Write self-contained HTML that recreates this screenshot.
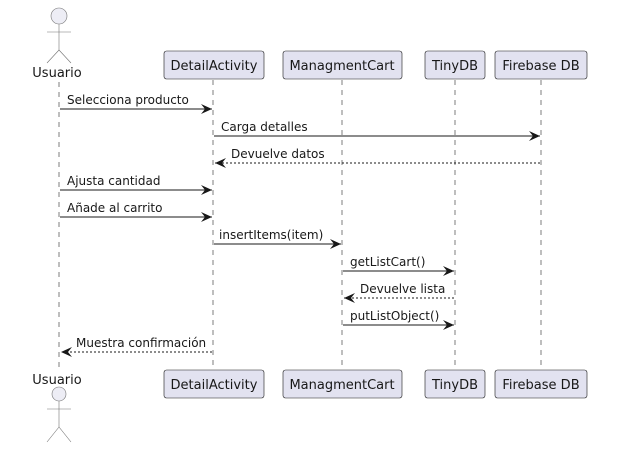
<!DOCTYPE html>
<html><head><meta charset="utf-8"><style>
html,body{margin:0;padding:0;background:#fff;}
svg{display:block;font-family:"DejaVu Sans","Liberation Sans",sans-serif;}
</style></head><body>
<svg width="633" height="458" viewBox="0 0 633 458" xmlns="http://www.w3.org/2000/svg">
<defs>
<marker id="a" markerWidth="12" markerHeight="10" refX="11" refY="5" orient="auto" markerUnits="userSpaceOnUse">
<path d="M0,0 L11,5 L0,10 L4,5 Z" fill="#181818"/></marker>
</defs>
<g stroke="#181818" stroke-width="0.8" stroke-dasharray="5,5" fill="none" opacity="0.7">
<line x1="59" y1="82" x2="59" y2="370"/>
<line x1="213" y1="80" x2="213" y2="370"/>
<line x1="342" y1="80" x2="342" y2="370"/>
<line x1="455" y1="80" x2="455" y2="370"/>
<line x1="541" y1="80" x2="541" y2="370"/>
</g>
<g fill="#e2e2f0" stroke="#181818" stroke-width="0.6">
<rect x="164" y="51" width="100" height="28" rx="2.5"/>
<rect x="283" y="51" width="119" height="28" rx="2.5"/>
<rect x="425" y="51" width="60" height="28" rx="2.5"/>
<rect x="495" y="51" width="92" height="28" rx="2.5"/>
<rect x="164" y="370" width="100" height="28" rx="2.5"/>
<rect x="283" y="370" width="119" height="28" rx="2.5"/>
<rect x="425" y="370" width="60" height="28" rx="2.5"/>
<rect x="495" y="370" width="92" height="28" rx="2.5"/>
</g>
<g font-size="13" fill="#181818" text-anchor="middle">
<text x="214" y="70">DetailActivity</text>
<text x="342" y="70">ManagmentCart</text>
<text x="455" y="70">TinyDB</text>
<text x="541" y="70">Firebase DB</text>
<text x="214" y="389">DetailActivity</text>
<text x="342" y="389">ManagmentCart</text>
<text x="455" y="389">TinyDB</text>
<text x="541" y="389">Firebase DB</text>
<text x="57" y="77">Usuario</text>
<text x="57" y="384">Usuario</text>
</g>
<g stroke="#181818" stroke-width="0.6" fill="none" opacity="0.6">
<circle cx="59" cy="16" r="8" fill="#e2e2f0"/>
<line x1="59" y1="24" x2="59" y2="50"/><line x1="47" y1="32" x2="71" y2="32"/>
<line x1="59" y1="50" x2="47" y2="63"/><line x1="59" y1="50" x2="71" y2="63"/>
<circle cx="59" cy="394" r="7" fill="#e2e2f0"/>
<line x1="59" y1="401" x2="59" y2="427"/><line x1="47" y1="409" x2="71" y2="409"/>
<line x1="59" y1="427" x2="47" y2="442"/><line x1="59" y1="427" x2="71" y2="442"/>
</g>
<g stroke="#181818" stroke-width="1" fill="none">
<line x1="60" y1="109" x2="212" y2="109" marker-end="url(#a)"/>
<line x1="214" y1="136" x2="540" y2="136" marker-end="url(#a)"/>
<line x1="540" y1="163" x2="215" y2="163" stroke-dasharray="2,2" marker-end="url(#a)"/>
<line x1="60" y1="190" x2="212" y2="190" marker-end="url(#a)"/>
<line x1="60" y1="217" x2="212" y2="217" marker-end="url(#a)"/>
<line x1="214" y1="244" x2="341" y2="244" marker-end="url(#a)"/>
<line x1="343" y1="271" x2="454" y2="271" marker-end="url(#a)"/>
<line x1="454" y1="298" x2="344" y2="298" stroke-dasharray="2,2" marker-end="url(#a)"/>
<line x1="343" y1="325" x2="454" y2="325" marker-end="url(#a)"/>
<line x1="212" y1="352" x2="61" y2="352" stroke-dasharray="2,2" marker-end="url(#a)"/>
</g>
<g font-size="12" fill="#181818">
<text x="67" y="104">Selecciona producto</text>
<text x="221" y="131">Carga detalles</text>
<text x="231" y="158">Devuelve datos</text>
<text x="67" y="185">Ajusta cantidad</text>
<text x="67" y="212">Añade al carrito</text>
<text x="219" y="239">insertItems(item)</text>
<text x="350" y="266">getListCart()</text>
<text x="360" y="293">Devuelve lista</text>
<text x="350" y="320">putListObject()</text>
<text x="76" y="347">Muestra confirmación</text>
</g>
</svg>
</body></html>
